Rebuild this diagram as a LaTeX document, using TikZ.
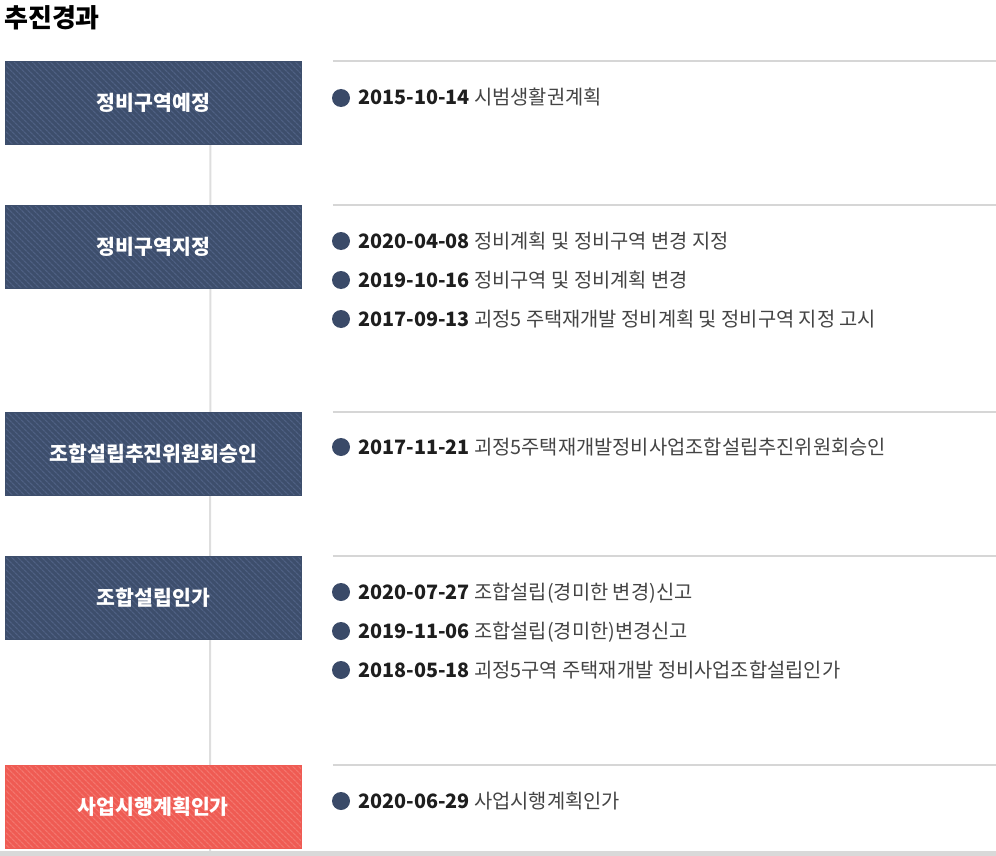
\documentclass[tikz,border=0pt]{standalone}
\usepackage{fontspec}
\setmainfont{Noto Sans CJK KR}
\usetikzlibrary{patterns.meta,positioning,backgrounds}

\definecolor{navybg}{HTML}{3D4E6C}
\definecolor{navyline}{HTML}{4E6083}
\definecolor{redbg}{HTML}{EF5B53}
\definecolor{redline}{HTML}{F3766E}
\definecolor{dotcol}{HTML}{3A4A68}
\definecolor{datecol}{HTML}{1E1E1E}
\definecolor{desccol}{HTML}{444444}
\definecolor{rulecol}{HTML}{D6D6D6}
\definecolor{barcol}{HTML}{D9D9D9}

\begin{document}
\begin{tikzpicture}
[x=1pt,y=-1pt,
 stage/.style={minimum width=296pt,minimum height=83pt,inner sep=0pt,anchor=north west,
   preaction={fill=navybg},pattern={Lines[angle=-45,distance=4pt,line width=1.3pt]},
   pattern color=navyline,draw=navybg,line width=0.8pt,
   text=white,font=\fontsize{20.5}{24}\selectfont\bfseries},
 hot/.style={preaction={fill=redbg},pattern color=redline,draw=redbg},
 dot/.style={circle,fill=dotcol,minimum size=18pt,inner sep=0pt},
 item/.style={inner sep=0pt,anchor=base west,text=desccol,font=\fontsize{19.8}{24}\selectfont},
 rule/.style={rulecol,line width=1.5pt},
 vline/.style={rulecol!80,line width=2pt}]
\useasboundingbox (0,0) rectangle (996,856);
\fill[barcol] (0,851) rectangle (996,856);

\node[anchor=base west,inner sep=0pt,font=\fontsize{26}{30}\selectfont\bfseries] (title) at (4,28) {추진경과};

\node[stage] (s1) at (5,61) {정비구역예정};
\node[stage] (s2) at (5,205) {정비구역지정};
\node[stage] (s3) at (5,412) {조합설립추진위원회승인};
\node[stage] (s4) at (5,556) {조합설립인가};
\node[stage,hot] (s5) at (5,765) {사업시행계획인가};
\coordinate (end) at (210,851);

\begin{scope}[on background layer]
\draw[vline] ([xshift=57pt]s1.south) -- (end);
\end{scope}

\draw[rule] (s1.north east) ++(31,0) -- ++(663,0);
\draw[rule] (s2.north east) ++(31,0) -- ++(663,0);
\draw[rule] (s3.north east) ++(31,0) -- ++(663,0);
\draw[rule] (s4.north east) ++(31,0) -- ++(663,0);
\draw[rule] (s5.north east) ++(31,0) -- ++(663,0);

\node[dot] (d1) at (341,98) {};
\node[item] (t1) at (358,105) {\textcolor{datecol}{\bfseries 2015-10-14} 시범생활권계획};

\node[dot] (d21) at (341,241) {};
\node[item] (t21) at (358,248) {\textcolor{datecol}{\bfseries 2020-04-08} 정비계획 및 정비구역 변경 지정};
\node[dot] (d22) at (341,280) {};
\node[item] (t22) at (358,287) {\textcolor{datecol}{\bfseries 2019-10-16} 정비구역 및 정비계획 변경};
\node[dot] (d23) at (341,319) {};
\node[item] (t23) at (358,326) {\textcolor{datecol}{\bfseries 2017-09-13} 괴정5 주택재개발 정비계획 및 정비구역 지정 고시};

\node[dot] (d3) at (341,447) {};
\node[item] (t3) at (358,454) {\textcolor{datecol}{\bfseries 2017-11-21} 괴정5주택재개발정비사업조합설립추진위원회승인};

\node[dot] (d41) at (341,592) {};
\node[item] (t41) at (358,599) {\textcolor{datecol}{\bfseries 2020-07-27} 조합설립(경미한 변경)신고};
\node[dot] (d42) at (341,631) {};
\node[item] (t42) at (358,638) {\textcolor{datecol}{\bfseries 2019-11-06} 조합설립(경미한)변경신고};
\node[dot] (d43) at (341,670) {};
\node[item] (t43) at (358,677) {\textcolor{datecol}{\bfseries 2018-05-18} 괴정5구역 주택재개발 정비사업조합설립인가};

\node[dot] (d5) at (341,801) {};
\node[item] (t5) at (358,808) {\textcolor{datecol}{\bfseries 2020-06-29} 사업시행계획인가};
\end{tikzpicture}
\end{document}
